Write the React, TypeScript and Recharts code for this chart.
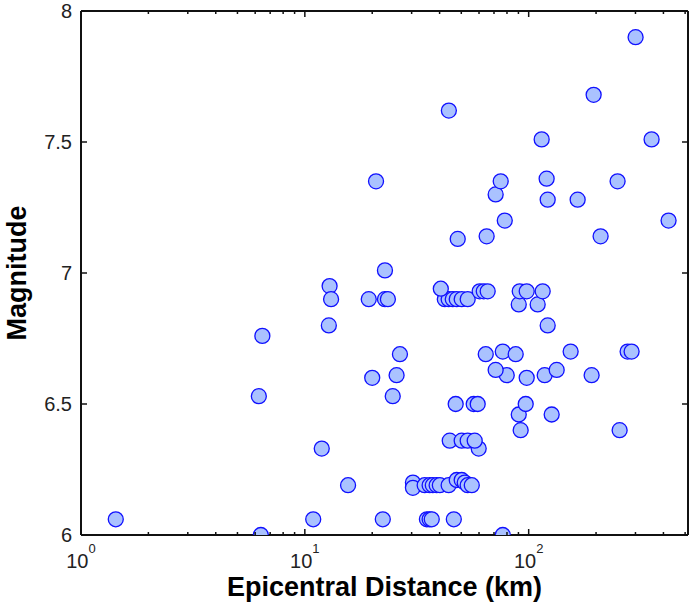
import { ScatterChart, Scatter, XAxis, YAxis } from "recharts"

// epicentral distance (km) and magnitude
const distances = [
  1.43, 6.36, 6.46, 6.23, 10.9, 11.9, 15.6, 12.8, 12.9, 13.1,
  20.8, 22.8, 19.3, 22.8, 23.5, 20.0, 26.6, 25.7, 24.7, 22.3,
  30.4, 30.4, 34.3, 36.1, 37.3, 38.8, 40.1, 43.9, 47.7, 50.2,
  51.8, 53.4, 55.7, 35.1, 36.1, 36.9, 46.3, 76.6, 59.8, 44.4,
  50.2, 53.4, 57.4, 92.1, 254.9, 90.3, 126.7, 47.2, 56.8, 59.2,
  97.0, 79.8, 98.0, 117.9, 191.1, 71.2, 133.4, 64.3, 76.6, 87.5,
  154.0, 276.7, 288.3, 121.6, 90.3, 109.7, 42.2, 43.9, 45.8, 47.7,
  50.2, 53.4, 40.5, 60.4, 63.0, 65.6, 91.2, 98.0, 115.5, 48.2,
  64.9, 209.6, 78.2, 421.7, 71.2, 121.6, 165.5, 75.0, 120.3, 249.6,
  114.3, 354.1, 44.0, 195.1, 300.4,
]
const magnitudes = [
  6.06, 6.0, 6.76, 6.53, 6.06, 6.33, 6.19, 6.8, 6.95, 6.9,
  7.35, 7.01, 6.9, 6.9, 6.9, 6.6, 6.69, 6.61, 6.53, 6.06,
  6.2, 6.18, 6.19, 6.19, 6.19, 6.19, 6.19, 6.19, 6.21, 6.21,
  6.2, 6.19, 6.19, 6.06, 6.06, 6.06, 6.06, 6.0, 6.33, 6.36,
  6.36, 6.36, 6.36, 6.4, 6.4, 6.46, 6.46, 6.5, 6.5, 6.5,
  6.5, 6.61, 6.6, 6.61, 6.61, 6.63, 6.63, 6.69, 6.7, 6.69,
  6.7, 6.7, 6.7, 6.8, 6.88, 6.88, 6.9, 6.9, 6.9, 6.9,
  6.9, 6.9, 6.94, 6.93, 6.93, 6.93, 6.93, 6.93, 6.93, 7.13,
  7.14, 7.14, 7.2, 7.2, 7.3, 7.28, 7.28, 7.35, 7.36, 7.35,
  7.51, 7.51, 7.62, 7.68, 7.9,
]

const xMajor = [1, 10, 100]
const xMinor = [2, 3, 4, 5, 6, 7, 8, 9, 20, 30, 40, 50, 60, 70, 80, 90, 200, 300, 400, 500]
const yTicks = [6, 6.5, 7, 7.5, 8]

const data = distances.map((d, i) => ({ dist: d, mag: magnitudes[i] }))
const xTicks = [...xMajor, ...xMinor].sort((a, b) => a - b)

const axisColor = "#111"
const labelFont = "'Liberation Sans', Arial, sans-serif"

function isMajor(v: number) {
  return xMajor.indexOf(v) >= 0
}

function BottomTick(props: any) {
  const { x, y, payload } = props
  const v = payload.value
  const major = isMajor(v)
  return (
    <g>
      <line x1={x} x2={x} y1={y} y2={y - (major ? 6 : 3)} stroke={axisColor} strokeWidth={1.5} />
      {major && (
        <text x={x} y={y + 33} textAnchor="middle" fontFamily={labelFont} fontSize={20} fill="#222">
          <tspan>10</tspan>
          <tspan dy={-15} fontSize={13}>{Math.round(Math.log10(v))}</tspan>
        </text>
      )}
    </g>
  )
}

function TopTick(props: any) {
  const { x, y, payload } = props
  const major = isMajor(payload.value)
  return <line x1={x} x2={x} y1={y} y2={y + (major ? 6 : 3)} stroke={axisColor} strokeWidth={1.5} />
}

function LeftTick(props: any) {
  const { x, y, payload } = props
  return (
    <g>
      <line x1={x} x2={x + 6} y1={y} y2={y} stroke={axisColor} strokeWidth={1.5} />
      <text x={x - 9} y={y} dy="0.36em" textAnchor="end" fontFamily={labelFont} fontSize={20} fill="#222">
        {payload.value}
      </text>
    </g>
  )
}

function RightTick(props: any) {
  const { x, y } = props
  return <line x1={x} x2={x - 6} y1={y} y2={y} stroke={axisColor} strokeWidth={1.5} />
}

function Dot(props: any) {
  const { cx, cy } = props
  return <circle cx={cx} cy={cy} r={7.5} fill="#aac2ff" stroke="#1010ff" strokeWidth={1.3} />
}

function NoDot() {
  return <g />
}

export default function App() {
  return (
    <div style={{ position: "absolute", left: 0, top: 0, background: "#fff" }}>
      <ScatterChart width={689} height={603} margin={{ top: 10, right: 0, bottom: 0, left: 0 }}>
        <XAxis
          xAxisId="bottom"
          orientation="bottom"
          type="number"
          dataKey="dist"
          scale="log"
          domain={[1, 515]}
          allowDataOverflow
          ticks={xTicks}
          interval={0}
          tickSize={0}
          tickMargin={0}
          tickLine={false}
          tick={<BottomTick />}
          height={68}
          axisLine={{ stroke: axisColor, strokeWidth: 2 }}
          label={{
            value: "Epicentral Distance (km)",
            position: "insideBottom",
            offset: 7,
            fontFamily: labelFont,
            fontSize: 27,
            fontWeight: "bold",
            fill: "#000",
          }}
        />
        <XAxis
          xAxisId="top"
          orientation="top"
          type="number"
          dataKey="dist"
          scale="log"
          domain={[1, 515]}
          allowDataOverflow
          ticks={xTicks}
          interval={0}
          tickSize={0}
          tickMargin={0}
          tickLine={false}
          tick={<TopTick />}
          height={1}
          axisLine={{ stroke: axisColor, strokeWidth: 2 }}
        />
        <YAxis
          yAxisId="left"
          orientation="left"
          type="number"
          dataKey="mag"
          domain={[6, 8]}
          allowDataOverflow
          ticks={yTicks}
          interval={0}
          tickSize={0}
          tickMargin={0}
          tickLine={false}
          tick={<LeftTick />}
          width={81}
          axisLine={{ stroke: axisColor, strokeWidth: 2 }}
          label={{
            value: "Magnitude",
            angle: -90,
            position: "insideLeft",
            offset: 16,
            style: { textAnchor: "middle" },
            fontFamily: labelFont,
            fontSize: 27,
            fontWeight: "bold",
            fill: "#000",
          }}
        />
        <YAxis
          yAxisId="right"
          orientation="right"
          type="number"
          dataKey="mag"
          domain={[6, 8]}
          allowDataOverflow
          ticks={yTicks}
          interval={0}
          tickSize={0}
          tickMargin={0}
          tickLine={false}
          tick={<RightTick />}
          width={1}
          axisLine={{ stroke: axisColor, strokeWidth: 2 }}
        />
        <Scatter
          data={data}
          xAxisId="top"
          yAxisId="right"
          shape={<NoDot />}
          isAnimationActive={false}
        />
        <Scatter
          data={data}
          xAxisId="bottom"
          yAxisId="left"
          shape={<Dot />}
          isAnimationActive={false}
        />
      </ScatterChart>
    </div>
  )
}
